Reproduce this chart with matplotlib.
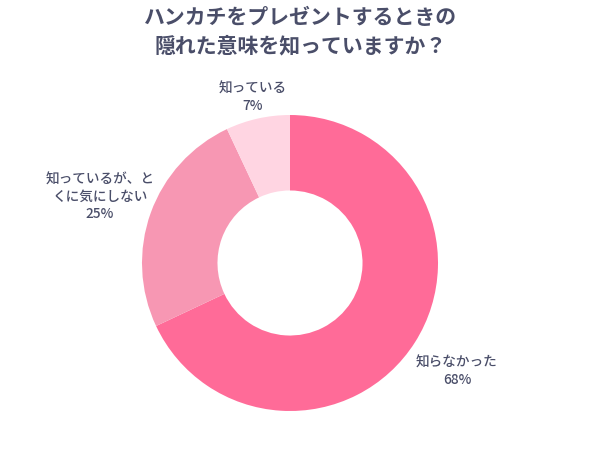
import matplotlib.pyplot as plt

plt.rcParams['font.family'] = ['Noto Sans CJK JP', 'DejaVu Sans']

title = 'ハンカチをプレゼントするときの\n隠れた意味を知っていますか？'
labels = ['知らなかった', '知っているが、と\nくに気にしない', '知っている']
values = [68, 25, 7]
colors = ['#FF6B98', '#F797B3', '#FFD5E2']
text_color = '#4A4E69'

W, H = 602, 451
fig = plt.figure(figsize=(W / 100, H / 100), dpi=100)
ax = fig.add_axes([0, 0, 1, 1])

# 画素座標で配置（y は下から）
cx, cy, r = 290, H - 263, 148
ax.pie(values, colors=colors, startangle=90, counterclock=False,
       center=(cx, cy), radius=r,
       wedgeprops=dict(width=r * 0.51, linewidth=0))
ax.set_xlim(0, W)
ax.set_ylim(0, H)
ax.set_aspect('equal')
ax.axis('off')

fig.text(0.5, 1 - 32 / H, title, ha='center', va='center', fontsize=15,
         fontweight='bold', color=text_color, linespacing=1.45)

label_pos = [(457, 371), (100, 197), (253, 97)]
for lab, v, (x, y) in zip(labels, values, label_pos):
    ax.text(x, H - y, f'{lab}\n{v}%', ha='center', va='center',
            fontsize=9.8, fontweight='medium', color=text_color,
            linespacing=1.3)

fig.savefig('out.png', dpi=100)
